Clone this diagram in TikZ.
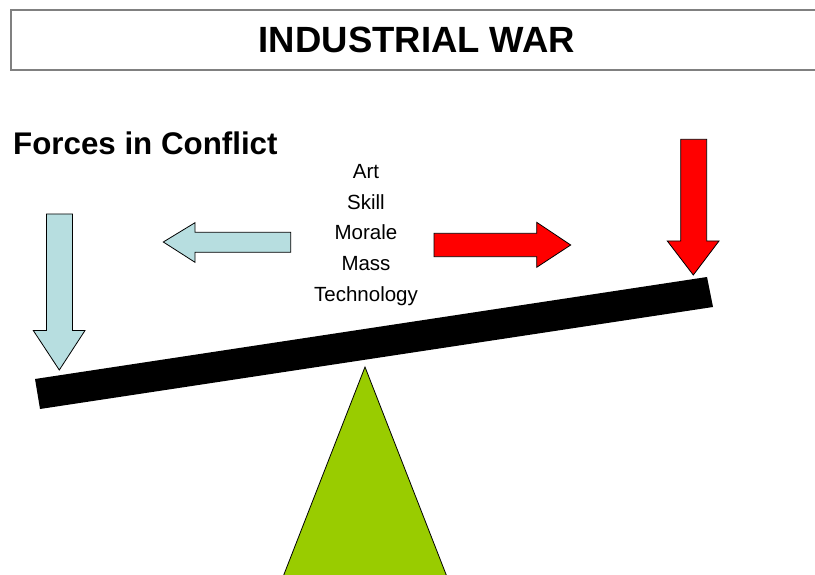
\documentclass[tikz,border=0pt]{standalone}
\usepackage{fontspec}
\setmainfont{Liberation Sans}
\definecolor{ltblue}{HTML}{B7DEE0}
\definecolor{fgreen}{HTML}{99CC00}
\definecolor{boxgray}{HTML}{808080}
\begin{document}
\begin{tikzpicture}[x=1pt,y=-1pt,
  arrowshape/.style={draw=black,line width=0.8pt,line join=miter},
  wordtext/.style={inner sep=0pt,anchor=base,font=\fontsize{20.5}{24}\selectfont},
  ]
\useasboundingbox (0,0) rectangle (815,575);
\clip (0,0) rectangle (815,575);
% title box
\draw[boxgray,line width=1.5pt] (815.5,10) -- (11,10) -- (11,70) -- (815.5,70);
\node[inner sep=0pt,anchor=base,font=\fontsize{36.5}{40}\selectfont\bfseries] (title) at (417,53) {INDUSTRIAL WAR};
% subtitle
\node[inner sep=0pt,anchor=base west,font=\fontsize{31.3}{36}\selectfont\bfseries] (forces) at (13,155) {Forces in Conflict};
% factors
\node[wordtext] (art) at (366,178.5) {Art};
\node[wordtext] (skill) at (366,209.2) {Skill};
\node[wordtext] (morale) at (366,239.9) {Morale};
\node[wordtext] (mass) at (366,270.6) {Mass};
\node[wordtext] (tech) at (366,301.3) {Technology};
% fulcrum
\draw[arrowshape,fill=fgreen] (365,367) -- (281,582) -- (449,582) -- cycle;
% beam
\fill[black] (35,379) -- (707,277) -- (713,307) -- (40,409) -- cycle;
% left down arrow
\draw[arrowshape,fill=ltblue] (46.5,214) -- (72.5,214) -- (72.5,330.5) -- (85,330.5) -- (59.3,370) -- (33.3,330.5) -- (46.5,330.5) -- cycle;
% left pointing arrow
\draw[arrowshape,fill=ltblue] (290.7,232.3) -- (195,232.3) -- (195,222.7) -- (163.3,242) -- (195,262.3) -- (195,252.3) -- (290.7,252.3) -- cycle;
% right pointing arrow
\draw[arrowshape,fill=red] (434,233.3) -- (536.7,233.3) -- (536.7,222.3) -- (570.7,245) -- (536.7,267.3) -- (536.7,256.7) -- (434,256.7) -- cycle;
% right down arrow
\draw[arrowshape,fill=red] (680.7,139.3) -- (706.7,139.3) -- (706.7,241) -- (719,241) -- (693.3,275) -- (667.3,241) -- (680.7,241) -- cycle;
\end{tikzpicture}
\end{document}
